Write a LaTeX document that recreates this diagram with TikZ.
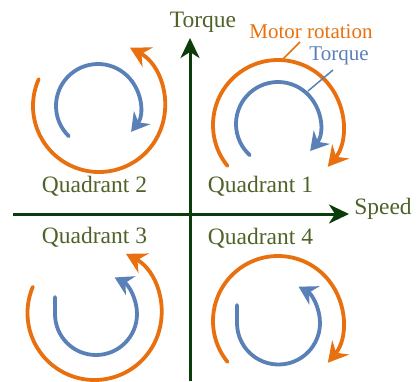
\documentclass[tikz,border=0pt]{standalone}
\usepackage{fontspec}
\setmainfont{Liberation Serif}
\usetikzlibrary{arrows.meta}
\definecolor{motororange}{RGB}{232,112,14}
\definecolor{torqueblue}{RGB}{90,128,184}
\definecolor{axisgreen}{RGB}{10,61,10}
\definecolor{labelolive}{RGB}{79,98,40}
\begin{document}
\begin{tikzpicture}[x=1pt,y=1pt,
  axis/.style={axisgreen,line width=3pt,-{Stealth[length=20pt,width=19pt,inset=6pt]}},
  rotation/.style={motororange,line width=3.8pt,line cap=round,-{Stealth[length=20pt,width=22pt,inset=7pt]}},
  torque/.style={torqueblue,line width=3.8pt,line cap=round,-{Stealth[length=18pt,width=21pt,inset=6pt]}},
  axislabel/.style={labelolive,font=\fontsize{23.5}{28}\selectfont,inner sep=0pt},
  notelabel/.style={font=\fontsize{21}{25}\selectfont,inner sep=0pt}]
\useasboundingbox (0,0) rectangle (417,-381);
%
% Achsen
\coordinate (vbot) at (190,-381);
\coordinate (vtop) at (190,-38);
\coordinate (hleft) at (13,-214);
\coordinate (hright) at (349,-214);
\draw[axis] (vbot) -- (vtop);
\draw[axis] (hleft) -- (hright);
\node[axislabel] (torquelbl) at (203,-22) {Torque};
\node[axislabel] (speedlbl) at (383,-209) {Speed};
%
% Quadranten
\node[axislabel] (q2) at (94.5,-186) {Quadrant 2};
\node[axislabel] (q1) at (260.5,-186) {Quadrant 1};
\node[axislabel] (q3) at (94.5,-237) {Quadrant 3};
\node[axislabel] (q4) at (260.5,-238) {Quadrant 4};
%
% Quadrant 2: Drehung links, Moment rechts
\draw[rotation] ([shift={(156:66)}]99,-106) arc[start angle=156,end angle=422,radius=66];
\draw[torque] ([shift={(226:42)}]98,-106) arc[start angle=226,end angle=-38,radius=42];
%
% Quadrant 1: Drehung rechts, Moment rechts
\draw[rotation] ([shift={(219:65)}]278,-125) arc[start angle=219,end angle=-40,radius=65];
\draw[torque] ([shift={(228:42)}]278,-124) arc[start angle=228,end angle=-40,radius=42];
% Beschriftung mit Hinweislinien
\node[notelabel,motororange] (motorlbl) at (311,-32) {Motor rotation};
\node[notelabel,torqueblue] (blulbl) at (339,-56) {Torque};
\coordinate (motorpt) at (283,-59);
\coordinate (motorend) at (300,-42);
\coordinate (torquept) at (308,-91);
\coordinate (torqueend) at (333,-70);
\draw[motororange,line width=1.5pt] (motorpt) -- (motorend);
\draw[torqueblue,line width=1.5pt] (torquept) -- (torqueend);
%
% Quadrant 3: Drehung links, Moment links
\draw[rotation] ([shift={(157:67)}]94.5,-313) arc[start angle=157,end angle=422,radius=67];
\draw[torque] (55,-297) -- (55,-314) arc[start angle=180,end angle=423,radius=41];
%
% Quadrant 4: Drehung rechts, Moment links
\draw[rotation] ([shift={(219:65)}]278,-321) arc[start angle=219,end angle=-40,radius=65];
\draw[torque] (237,-305) -- (237,-323) arc[start angle=180,end angle=421,radius=41.5];
\end{tikzpicture}
\end{document}
